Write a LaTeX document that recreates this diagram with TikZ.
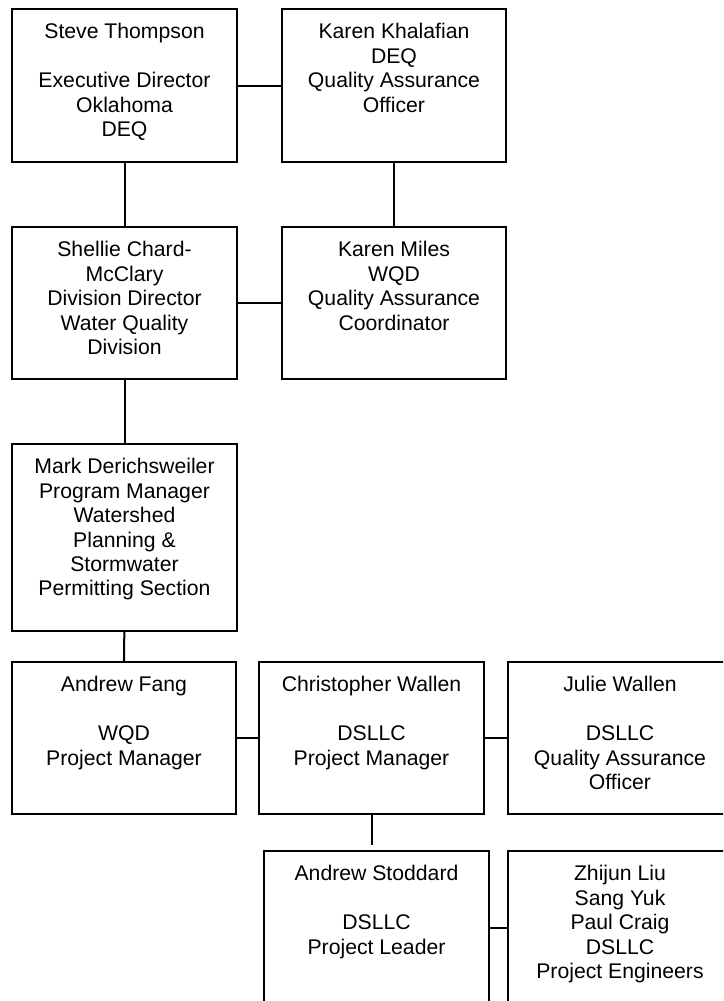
\documentclass[tikz,border=0pt]{standalone}
\usepackage{fontspec}
\setmainfont{Liberation Sans}
\usepackage{tikz}
\usetikzlibrary{positioning}

\tikzset{
  box/.style={draw, line width=1.8pt, minimum width=225pt, minimum height=153pt, inner sep=0pt},
  txt/.style={align=center, inner sep=0pt, font=\fontsize{21.2}{24.4}\selectfont},
  link/.style={line width=2pt}
}

\begin{document}
\begin{tikzpicture}[x=1pt, y=-1pt]

\useasboundingbox (0,0) rectangle (723,1001);
\clip (0,0) rectangle (723,1001);

% ---------------- Top: DEQ ----------------
\node[box] (steve) at (124.5,85.5) {};
\node[box, minimum width=224pt] (karenk) at (394,85.5) {};
\node[txt, below=15.3pt of steve.north] (steve-t) {Steve Thompson\\[24.4pt]Executive Director\\Oklahoma\\DEQ};
\node[txt, below=15.3pt of karenk.north] (karenk-t) {Karen Khalafian\\DEQ\\Quality Assurance\\Officer};

% ---------------- Water Quality Division ----------------
\node[box, minimum height=152pt] (shellie) at (124.5,303) {};
\node[box, minimum width=224pt, minimum height=152pt] (karenm) at (394,303) {};
\node[txt, below=15.3pt of shellie.north] (shellie-t) {Shellie Chard-\\McClary\\Division Director\\Water Quality\\Division};
\node[txt, below=15.3pt of karenm.north] (karenm-t) {Karen Miles\\WQD\\Quality Assurance\\Coordinator};

% ---------------- Section ----------------
\node[box, minimum height=187pt] (mark) at (124.5,537.5) {};
\node[txt, below=15.3pt of mark.north] (mark-t) {Mark Derichsweiler\\Program Manager\\Watershed\\Planning \&\\Stormwater\\Permitting Section};

% ---------------- Project row ----------------
\node[box, minimum width=224pt, minimum height=152pt] (fang) at (124,738) {};
\node[box, minimum height=152pt] (wallen) at (371.5,738) {};
\node[box, minimum width=224pt, minimum height=152pt] (julie) at (620,738) {};
\node[txt, below=15.3pt of fang.north] (fang-t) {Andrew Fang\\[24.4pt]WQD\\Project Manager};
\node[txt, below=15.3pt of wallen.north] (wallen-t) {Christopher Wallen\\[24.4pt]DSLLC\\Project Manager};
\node[txt, below=15.3pt of julie.north] (julie-t) {Julie Wallen\\[24.4pt]DSLLC\\Quality Assurance\\Officer};

% ---------------- Bottom row (runs off the page) ----------------
\node[box, minimum height=154pt] (stoddard) at (376.5,928) {};
\node[box, minimum width=224pt, minimum height=154pt] (zhijun) at (620,928) {};
\node[txt, below=15.3pt of stoddard.north] (stoddard-t) {Andrew Stoddard\\[24.4pt]DSLLC\\Project Leader};
\node[txt, below=15.3pt of zhijun.north] (zhijun-t) {Zhijun Liu\\Sang Yuk\\Paul Craig\\DSLLC\\Project Engineers};

% Connectors
\coordinate (wallen-end) at (wallen.south |- 0,845);
\draw[link] (steve) -- (karenk);
\draw[link] (steve) -- (shellie);
\draw[link] (karenk) -- (karenm);
\draw[link] (shellie) -- (karenm);
\draw[link] (shellie) -- (mark);
\draw[link] (mark) -- (fang);
\draw[link] (fang) -- (wallen);
\draw[link] (wallen) -- (julie);
\draw[link] (wallen.south) -- (wallen-end);
\draw[link] (stoddard) -- (zhijun);
\end{tikzpicture}
\end{document}
